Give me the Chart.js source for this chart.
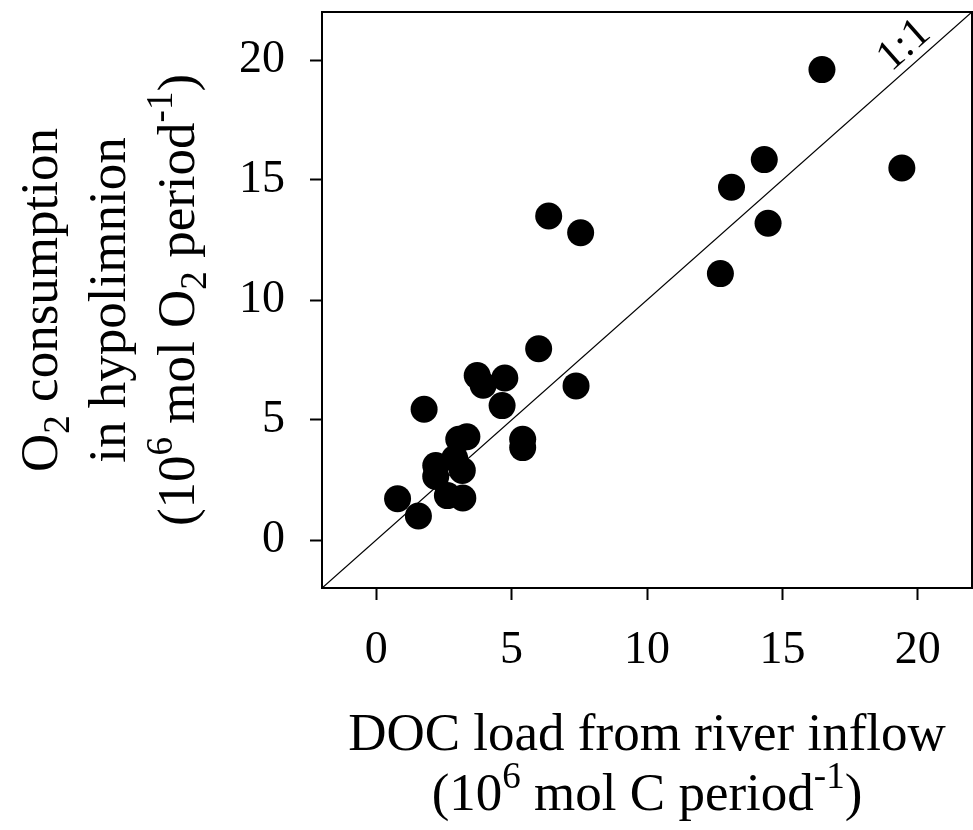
<!DOCTYPE html>
<html>
<head>
<meta charset="utf-8">
<script src="https://cdn.jsdelivr.net/npm/chart.js@4.4.1/dist/chart.umd.min.js"></script>
<style>
  html, body { margin: 0; padding: 0; background: #fff; }
  #wrap { width: 973px; height: 830px; }
</style>
</head>
<body>
<div id="wrap"><canvas id="docChart" width="973" height="830"></canvas></div>
<script>
// values (10^6 mol period^-1)
const docLoad = [0.79, 1.56, 1.77, 2.2, 2.2, 2.63, 2.9, 3.18, 3.2, 3.05, 3.35, 3.73, 3.95, 4.75, 4.65, 5.41, 5.41, 6.0, 7.38, 6.37, 7.55, 12.71, 13.12, 14.33, 14.47, 16.46, 19.41];
const o2Consumption = [1.72, 1.0, 5.45, 3.1, 2.65, 1.85, 3.4, 2.9, 1.75, 4.2, 4.3, 6.85, 6.45, 6.75, 5.6, 4.2, 3.85, 7.97, 6.42, 13.5, 12.8, 11.1, 14.7, 15.85, 13.2, 19.6, 15.5];
const tickValues = [0, 5, 10, 15, 20];
const axisRange = [-2, 22];
const oneToOneLabel = '1:1';

const serif = '"Liberation Serif", "Times New Roman", serif';

const yTitle = [
  [['O', 'n'], ['2', 'sub'], [' consumption', 'n']],
  [['in hypolimnion', 'n']],
  [['(10', 'n'], ['6', 'sup'], [' mol O', 'n'], ['2', 'sub'], [' period', 'n'], ['-1', 'sup'], [')', 'n']]
];
const xTitle = [
  [['DOC load from river inflow', 'n']],
  [['(10', 'n'], ['6', 'sup'], [' mol C period', 'n'], ['-1', 'sup'], [')', 'n']]
];

const drawRich = (ctx, parts, cx, cy, size) => {
  const font = s => `${s}px ${serif}`;
  let total = 0;
  parts.forEach(p => {
    ctx.font = font(p[1] === 'n' ? size : size * 0.7);
    total += ctx.measureText(p[0]).width;
  });
  let x = cx - total / 2;
  ctx.textAlign = 'left';
  ctx.textBaseline = 'alphabetic';
  const base = cy + size * 0.33;
  parts.forEach(p => {
    const s = p[1] === 'n' ? size : size * 0.7;
    ctx.font = font(s);
    let dy = 0;
    if (p[1] === 'sub') dy = size * 0.22;
    if (p[1] === 'sup') dy = -size * 0.42;
    ctx.fillText(p[0], x, base + dy);
    x += ctx.measureText(p[0]).width;
  });
};

const framePlugin = {
  id: 'frame',
  afterDraw(chart) {
    const ctx = chart.ctx;
    const a = chart.chartArea;
    const xs = chart.scales.x;
    const ys = chart.scales.y;
    ctx.save();
    ctx.strokeStyle = '#000';
    ctx.lineWidth = 2;
    ctx.strokeRect(a.left, a.top, a.right - a.left, a.bottom - a.top);
    ctx.fillStyle = '#000';

    // 1:1 label along the line
    const x0 = xs.getPixelForValue(0), y0 = ys.getPixelForValue(0);
    const x1 = xs.getPixelForValue(20), y1 = ys.getPixelForValue(20);
    const ang = Math.atan2(y1 - y0, x1 - x0);
    ctx.save();
    ctx.translate(xs.getPixelForValue(19.5), ys.getPixelForValue(20.6));
    ctx.rotate(ang);
    ctx.font = `43px ${serif}`;
    ctx.textAlign = 'center';
    ctx.textBaseline = 'middle';
    ctx.fillText(oneToOneLabel, 0, 0);
    ctx.restore();

    // axis titles
    const midX = (a.left + a.right) / 2;
    const midY = (a.top + a.bottom) / 2;
    drawRich(ctx, xTitle[0], midX, 733, 53);
    drawRich(ctx, xTitle[1], midX, 793, 53);
    [40, 108, 177].forEach((px, i) => {
      ctx.save();
      ctx.translate(px, midY);
      ctx.rotate(-Math.PI / 2);
      drawRich(ctx, yTitle[i], 0, 0, 53);
      ctx.restore();
    });
    ctx.restore();
  }
};

const scaleOpts = (fit) => ({
  type: 'linear',
  min: axisRange[0],
  max: axisRange[1],
  afterBuildTicks: s => { s.ticks = tickValues.map(v => ({ value: v })); },
  afterFit: s => {
    fit(s);
    s.paddingTop = 0; s.paddingBottom = 0;
    s.paddingLeft = 0; s.paddingRight = 0;
  },
  border: { display: false },
  grid: { drawOnChartArea: false, drawTicks: true, tickLength: 12, tickColor: '#000', tickWidth: 2 },
  ticks: { color: '#000', font: { family: serif, size: 46 }, autoSkip: false, maxRotation: 0 }
});

const xScale = scaleOpts(s => { s.height = 242; });
xScale.position = 'bottom';
xScale.ticks.padding = 23;
const yScale = scaleOpts(s => { s.width = 322; });
yScale.position = 'left';
yScale.ticks.padding = 25;

const docChart = document.getElementById('docChart');
new Chart(docChart, {
  type: 'scatter',
  data: {
    datasets: [{
      data: docLoad.map((x, i) => ({ x: x, y: o2Consumption[i] })),
      backgroundColor: '#000',
      borderWidth: 0,
      pointRadius: 13.5,
      order: 1
    }, {
      type: 'line',
      data: axisRange.map(v => ({ x: v, y: v })),
      borderColor: '#000',
      borderWidth: 1.3,
      pointRadius: 0,
      fill: false,
      order: 2
    }]
  },
  options: {
    responsive: false,
    animation: false,
    layout: { autoPadding: false, padding: { top: 12, right: 1, left: 0, bottom: 0 } },
    plugins: { legend: { display: false }, tooltip: { enabled: false } },
    scales: { x: xScale, y: yScale }
  },
  plugins: [framePlugin]
});
</script>
</body>
</html>
